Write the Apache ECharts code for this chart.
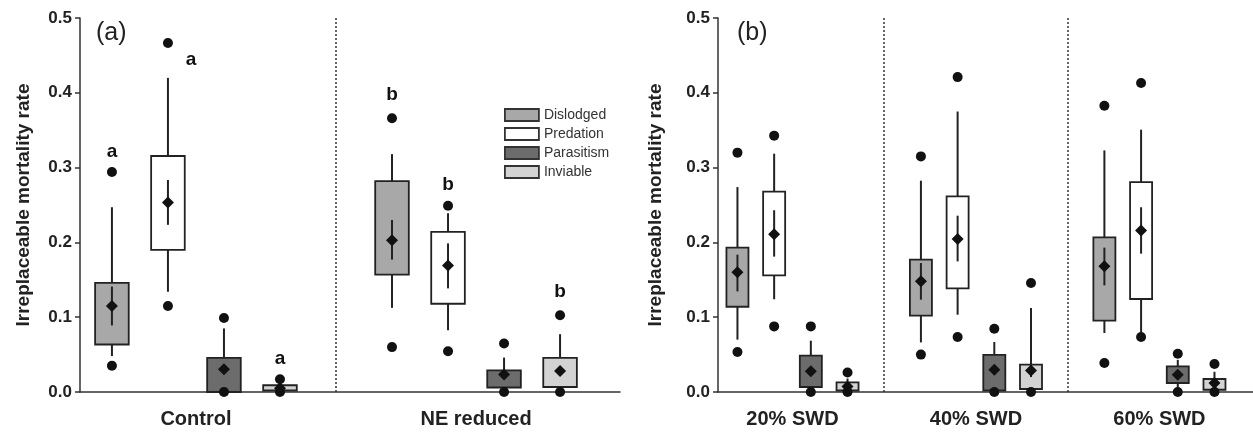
<!DOCTYPE html>
<html>
<head>
<meta charset="utf-8">
<script src="https://cdn.jsdelivr.net/npm/echarts@6/dist/echarts.min.js"></script>
<style>
  html, body { margin: 0; padding: 0; background: #fff; }
  #chart { width: 1253px; height: 433px; }
</style>
</head>
<body>
<div id="chart"></div>
<script>
// categories
const typeNames = ['Dislodged', 'Predation', 'Parasitism', 'Inviable'];
const typeColors = ['#a8a8a8', '#ffffff', '#6c6c6c', '#d3d3d3'];
const groupsA = ['Control', 'NE reduced'];
const groupsB = ['20% SWD', '40% SWD', '60% SWD'];
const yTicks = [0, 0.1, 0.2, 0.3, 0.4, 0.5];

// one row per group: [low dot, whisker low, Q1, Q3, whisker high, high dot, mean, mean-SE, mean+SE]
const aDislodged = [
  [0.035, 0.048, 0.0635, 0.146, 0.247, 0.294, 0.115, 0.089, 0.141],
  [0.060, 0.1125, 0.157, 0.282, 0.318, 0.366, 0.203, 0.177, 0.230]
];
const aPredation = [
  [0.115, 0.134, 0.190, 0.3155, 0.420, 0.4665, 0.2535, 0.2235, 0.2835],
  [0.0545, 0.0826, 0.118, 0.214, 0.239, 0.249, 0.169, 0.1385, 0.1987]
];
const aParasitism = [
  [0, 0, 0, 0.0455, 0.085, 0.099, 0.0305, 0.027, 0.034],
  [0, 0.002, 0.006, 0.029, 0.046, 0.0648, 0.0233, 0.018, 0.029]
];
const aInviable = [
  [0, 0.001, 0.002, 0.009, 0.012, 0.017, 0.005, 0.003, 0.007],
  [0, 0.002, 0.0067, 0.0455, 0.0773, 0.1027, 0.028, 0.022, 0.034]
];

const bDislodged = [
  [0.0535, 0.070, 0.114, 0.193, 0.274, 0.320, 0.160, 0.1345, 0.1836],
  [0.050, 0.0663, 0.102, 0.177, 0.2825, 0.315, 0.148, 0.1234, 0.1725],
  [0.0388, 0.0789, 0.0953, 0.2067, 0.323, 0.3828, 0.168, 0.1425, 0.193]
];
const bPredation = [
  [0.0877, 0.124, 0.156, 0.268, 0.3186, 0.3427, 0.211, 0.181, 0.243],
  [0.0735, 0.1033, 0.1385, 0.2615, 0.375, 0.421, 0.2045, 0.1746, 0.2357],
  [0.0735, 0.080, 0.1243, 0.2807, 0.3507, 0.413, 0.216, 0.185, 0.247]
];
const bParasitism = [
  [0, 0.002, 0.0067, 0.0485, 0.0686, 0.0877, 0.0276, 0.022, 0.033],
  [0, 0.001, 0.002, 0.0495, 0.0668, 0.0846, 0.0298, 0.024, 0.036],
  [0, 0.004, 0.012, 0.0342, 0.043, 0.0512, 0.0231, 0.019, 0.028]
];
const bInviable = [
  [0, 0.001, 0.002, 0.0128, 0.018, 0.026, 0.0075, 0.004, 0.011],
  [0, 0.002, 0.004, 0.0365, 0.1123, 0.1457, 0.0289, 0.020, 0.038],
  [0, 0.001, 0.003, 0.0174, 0.027, 0.0374, 0.012, 0.008, 0.016]
];

// significance letters in panel (a): [letter, x slot, y]
const lettersA = [
  ['a', 0, 0.321], ['a', 1.41, 0.444], ['a', 3, 0.045],
  ['b', 5, 0.397], ['b', 6, 0.277], ['b', 8, 0.134]
];

const dividersA = [4];
const dividersB = [4, 9];

const FONT = 'Liberation Sans, Arial, sans-serif';
const INK = '#222';
const BOX_W = 0.6; // in slot units

const chart = echarts.init(document.getElementById('chart'));

// 一个箱线图元素：箱体、须线、均值误差线、菱形、两个点
function renderBox(params, api) {
  const x = api.value(0);
  const c = (v) => api.coord([x, v]);
  const half = api.size([BOX_W, 0])[0] / 2;
  const v = [];
  for (let i = 1; i <= 9; i++) v.push(api.value(i));
  const [dLo, wLo, q1, q3, wHi, dHi, mean, mLo, mHi] = v;
  const fill = api.visual('color');
  const line = { stroke: INK, lineWidth: 2 };
  const kids = [];
  if (wLo < q1) {
    const a = c(wLo), b = c(q1);
    kids.push({ type: 'line', shape: { x1: a[0], y1: a[1], x2: b[0], y2: b[1] }, style: line });
  }
  if (wHi > q3) {
    const a = c(q3), b = c(wHi);
    kids.push({ type: 'line', shape: { x1: a[0], y1: a[1], x2: b[0], y2: b[1] }, style: line });
  }
  const top = c(q3), bot = c(q1);
  kids.push({
    type: 'rect',
    shape: { x: top[0] - half, y: top[1], width: half * 2, height: Math.max(bot[1] - top[1], 1) },
    style: { fill: fill, stroke: INK, lineWidth: 1.8 }
  });
  const e1 = c(mLo), e2 = c(mHi);
  kids.push({ type: 'line', shape: { x1: e1[0], y1: e1[1], x2: e2[0], y2: e2[1] }, style: line });
  const m = c(mean), r = 6;
  kids.push({
    type: 'polygon',
    shape: { points: [[m[0], m[1] - r], [m[0] + r, m[1]], [m[0], m[1] + r], [m[0] - r, m[1]]] },
    style: { fill: '#111' }
  });
  [dLo, dHi].forEach(function (d) {
    const p = c(d);
    kids.push({ type: 'circle', shape: { cx: p[0], cy: p[1], r: 5 }, style: { fill: '#111' } });
  });
  return { type: 'group', children: kids };
}

function boxSeries(panel, rowsByType, dividers) {
  return rowsByType.map(function (rows, t) {
    const s = {
      type: 'custom',
      name: typeNames[t],
      xAxisIndex: panel,
      yAxisIndex: panel,
      itemStyle: { color: typeColors[t] },
      renderItem: renderBox,
      encode: { x: 0, y: [1, 2, 3, 4, 5, 6, 7, 8, 9] },
      data: rows.map(function (row, g) { return [g * 5 + t].concat(row); })
    };
    if (t === 0) {
      s.markLine = {
        silent: true,
        symbol: 'none',
        label: { show: false },
        lineStyle: { type: [2, 2], color: '#333', width: 1.5 },
        data: dividers.map(function (d) { return { xAxis: d }; })
      };
    }
    return s;
  });
}

function xAxisFor(panel, groups, min, max) {
  return {
    type: 'value',
    gridIndex: panel,
    min: min,
    max: max,
    axisLine: { show: true, onZero: false, lineStyle: { color: '#333', width: 1.5 } },
    axisTick: { show: false },
    splitLine: { show: false },
    axisLabel: {
      customValues: groups.map(function (g, i) { return i * 5 + 1.5; }),
      formatter: function (v) { return groups[Math.round((v - 1.5) / 5)]; },
      margin: 17,
      fontFamily: FONT,
      fontWeight: 'bold',
      fontSize: 20,
      color: INK
    }
  };
}

function yAxisFor(panel, gap) {
  return {
    type: 'value',
    gridIndex: panel,
    min: yTicks[0],
    max: yTicks[yTicks.length - 1],
    interval: 0.1,
    name: 'Irreplaceable mortality rate',
    nameLocation: 'middle',
    nameGap: gap,
    nameTextStyle: { fontFamily: FONT, fontWeight: 'bold', fontSize: 19, color: INK },
    axisLine: { show: true, onZero: false, lineStyle: { color: '#333', width: 1.5 } },
    axisTick: { show: true, inside: false, length: 5, lineStyle: { color: '#333', width: 1.5 } },
    splitLine: { show: false },
    axisLabel: {
      margin: 8,
      formatter: function (v) { return v.toFixed(1); },
      fontFamily: FONT,
      fontWeight: 'bold',
      fontSize: 17,
      color: INK
    }
  };
}

const option = {
  backgroundColor: '#fff',
  animation: false,
  title: [
    { text: '(a)', left: 96, top: 21, padding: 0, textStyle: { fontFamily: FONT, fontWeight: 'normal', fontSize: 25, color: INK } },
    { text: '(b)', left: 737, top: 21, padding: 0, textStyle: { fontFamily: FONT, fontWeight: 'normal', fontSize: 25, color: INK } }
  ],
  legend: {
    orient: 'vertical',
    left: 499,
    top: 103,
    itemWidth: 34,
    itemHeight: 12,
    itemGap: 5,
    selectedMode: false,
    textStyle: { fontFamily: FONT, fontSize: 14, color: '#333' },
    data: typeNames.map(function (n, i) {
      return { name: n, icon: 'rect', itemStyle: { color: typeColors[i], borderColor: '#333', borderWidth: 1.8 } };
    })
  },
  grid: [
    { left: 80, width: 540, top: 18, bottom: 41 },
    { left: 718, right: 0, top: 18, bottom: 41 }
  ],
  xAxis: [
    xAxisFor(0, groupsA, -0.57, 9.07),
    xAxisFor(1, groupsB, -0.53, 14.05)
  ],
  yAxis: [
    yAxisFor(0, 47),
    yAxisFor(1, 53)
  ],
  series: []
    .concat(boxSeries(0, [aDislodged, aPredation, aParasitism, aInviable], dividersA))
    .concat(boxSeries(1, [bDislodged, bPredation, bParasitism, bInviable], dividersB))
    .concat([{
      type: 'scatter',
      name: 'letters',
      xAxisIndex: 0,
      yAxisIndex: 0,
      symbolSize: 0,
      silent: true,
      itemStyle: { opacity: 1 },
      encode: { x: 1, y: 2 },
      data: lettersA,
      label: {
        show: true,
        position: 'inside',
        formatter: function (p) { return p.data[0]; },
        fontFamily: FONT,
        fontWeight: 'bold',
        fontSize: 19,
        color: '#111',
        opacity: 1
      }
    }])
};

chart.setOption(option);
</script>
</body>
</html>
